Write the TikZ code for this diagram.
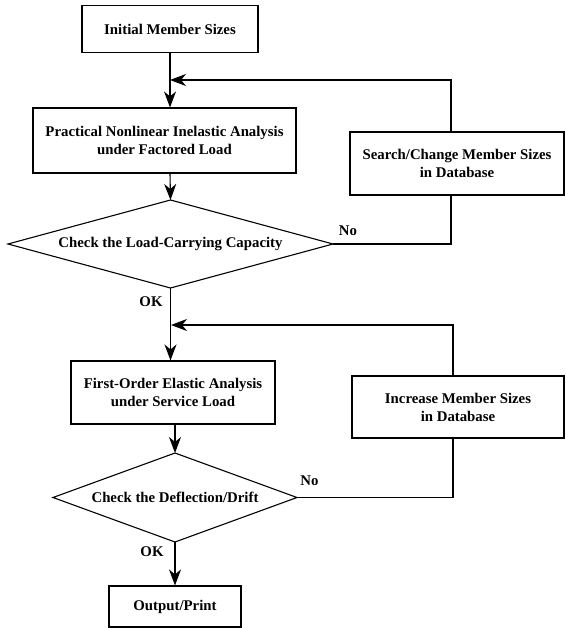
\documentclass[tikz,border=0pt]{standalone}
\usepackage{fontspec}
\setmainfont{Liberation Serif}
\usetikzlibrary{shapes.geometric,arrows.meta}
\begin{document}
\begin{tikzpicture}[x=1pt,y=-1pt,
  every node/.style={font=\fontsize{14.8}{18}\selectfont\bfseries},
  box/.style={draw,line width=1.1pt,inner sep=0pt,align=center},
  dec/.style={draw,line width=1.1pt,shape=diamond,inner sep=0pt,outer sep=0pt},
  lbl/.style={inner sep=0pt},
  conn/.style={line width=1.1pt},
  arr/.style={conn,-{Stealth[length=16pt,width=12pt,inset=5pt]}}]
\useasboundingbox (0,0) rectangle (565,628);
\node[box,minimum width=176pt,minimum height=47pt] (b1) at (170,29) {Initial Member Sizes};
\node[box,minimum width=263pt,minimum height=65pt] (b2) at (164.5,140.5) {Practical Nonlinear Inelastic Analysis\\under Factored Load};
\node[box,minimum width=214pt,minimum height=63pt] (s) at (457,163.5) {Search/Change Member Sizes\\in Database};
\node[dec,minimum width=325pt,minimum height=88pt,label={center:Check the Load-Carrying Capacity}] (d1) at (170.5,244) {};
\node[box,minimum width=204pt,minimum height=63pt] (b3) at (173,392.5) {First-Order Elastic Analysis\\under Service Load};
\node[box,minimum width=212pt,minimum height=62pt] (inc) at (458,407) {Increase Member Sizes\\in Database};
\node[dec,minimum width=244pt,minimum height=89pt,label={center:Check the Deflection/Drift}] (d2) at (175,497.5) {};
\node[box,minimum width=132pt,minimum height=41pt] (out) at (175,606.5) {Output/Print};
\coordinate (j1) at (170,80);
\coordinate (c1) at (451,80);
\coordinate (j2) at (171,325);
\coordinate (c2) at (453,325);
\node[lbl] (no1) at (348,231) {No};
\node[lbl] (ok1) at (151,302) {OK};
\node[lbl] (no2) at (309.5,481) {No};
\node[lbl] (ok2) at (152,552) {OK};
\draw[arr] (b1.south) -- (b1.south |- b2.north);
\draw[arr] (s.north -| c1) -- (c1) -- (j1);
\draw[arr] (b1.south |- b2.south) -- (d1.north);
\draw[conn] (d1.east) -| (s.south -| c1);
\draw[arr] (d1.south) -- (d1.south |- b3.north);
\draw[arr] (inc.north -| c2) -- (c2) -- (j2);
\draw[arr] (b3.south -| d2.north) -- (d2.north);
\draw[conn] (d2.east) -| (inc.south -| c2);
\draw[arr] (d2.south) -- (out.north);
\end{tikzpicture}
\end{document}
